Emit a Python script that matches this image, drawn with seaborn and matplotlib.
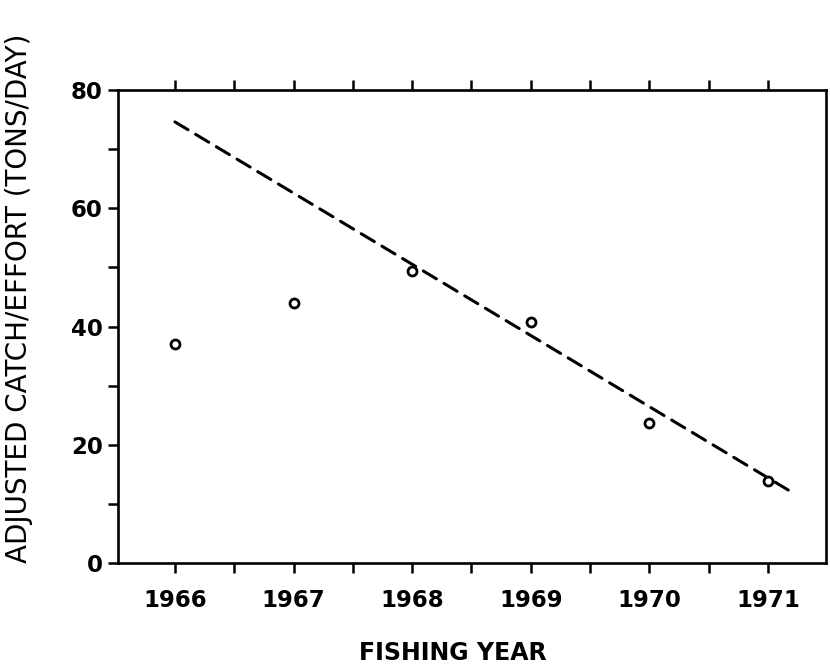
import matplotlib
matplotlib.use("Agg")
import matplotlib.pyplot as plt
from matplotlib.ticker import MultipleLocator
import seaborn as sns
import pandas as pd

# Observed catch per unit effort by fishing year
years = [1966, 1967, 1968, 1969, 1970, 1971]
cpue = [37.0, 44.0, 49.4, 40.8, 23.6, 13.9]

# Fitted decline (dashed line) end points
trend_years = [1966.0, 1971.2]
trend_cpue = [74.6, 12.0]

x_ticks = [1966, 1967, 1968, 1969, 1970, 1971]
y_ticks = [0, 20, 40, 60, 80]

sns.set_style("ticks")
plt.rcParams["font.family"] = ["DejaVu Sans"]
plt.rcParams["text.color"] = "black"
plt.rcParams["axes.labelcolor"] = "black"
plt.rcParams["xtick.color"] = "black"
plt.rcParams["ytick.color"] = "black"

fig = plt.figure(figsize=(8.3, 6.69), dpi=100)
ax = fig.add_axes([0.1422, 0.1584, 0.8530, 0.7071])

obs = pd.DataFrame({"year": years, "cpue": cpue})
trend = pd.DataFrame({"year": trend_years, "cpue": trend_cpue})

sns.lineplot(data=trend, x="year", y="cpue", ax=ax, color="black",
             linewidth=2.2, linestyle=(0, (5.0, 2.9)), dash_capstyle="round",
             solid_capstyle="round")
sns.scatterplot(data=obs, x="year", y="cpue", ax=ax, marker="o", s=42,
                facecolor="white", edgecolor="black", linewidth=2.0, zorder=3)

ax.set_xlim(1965.52, 1971.49)
ax.set_ylim(0, 80)
ax.set_xticks(x_ticks)
ax.set_xticklabels([str(y) for y in x_ticks])
ax.set_yticks(y_ticks)
ax.xaxis.set_minor_locator(MultipleLocator(0.5))
ax.yaxis.set_minor_locator(MultipleLocator(10))

for side in ["left", "right", "top", "bottom"]:
    ax.spines[side].set_visible(True)
    ax.spines[side].set_linewidth(1.9)
    ax.spines[side].set_color("black")

ax.tick_params(axis="x", which="both", direction="out", top=True, bottom=True,
               length=7, width=1.8, color="black", labelcolor="black", pad=12)
ax.tick_params(axis="y", which="both", direction="out", left=True, right=False,
               length=7, width=1.8, color="black", labelcolor="black", pad=4)
for lab in ax.get_xticklabels() + ax.get_yticklabels():
    lab.set_fontsize(16.5)
    lab.set_fontweight("bold")

ax.set_xlabel("FISHING YEAR", fontsize=17, fontweight="bold", color="black")
ax.xaxis.set_label_coords(0.473, -0.165)
ax.set_ylabel("ADJUSTED CATCH/EFFORT (TONS/DAY)", fontsize=20,
              fontweight="normal", color="black")
ax.yaxis.set_label_coords(-0.12, 0.56)

ax.grid(False)
fig.savefig("out.png", dpi=100, facecolor="white")
